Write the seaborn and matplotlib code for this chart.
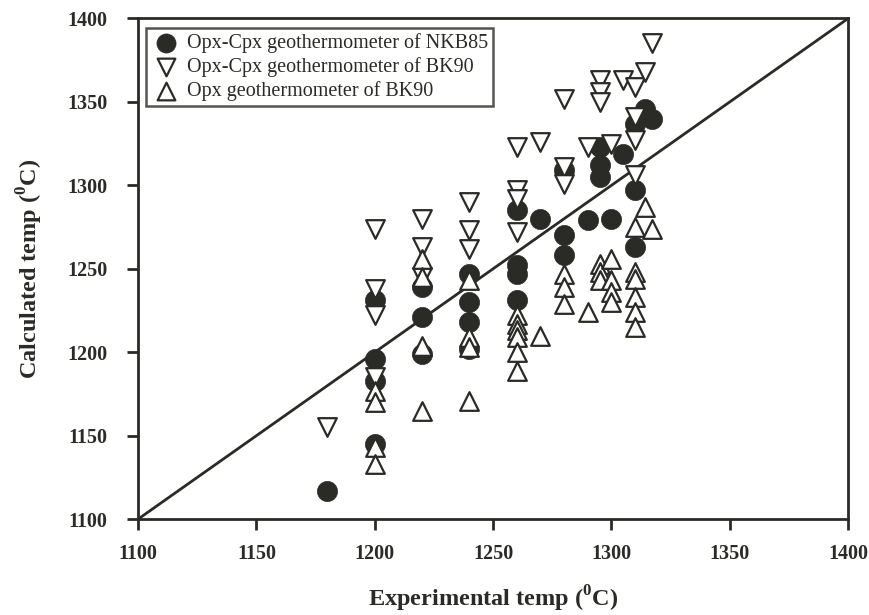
import matplotlib
matplotlib.use("Agg")
import matplotlib.pyplot as plt
import seaborn as sns
import pandas as pd

# Opx-Cpx geothermometer of NKB85 (filled circles)
nkb_exp = [1180, 1200, 1200, 1200, 1200, 1220, 1220, 1220, 1240, 1240, 1240, 1240,
           1260, 1260, 1260, 1260, 1270, 1280, 1280, 1280, 1290, 1295, 1295, 1295,
           1300, 1305, 1310, 1310, 1310, 1314, 1317]
nkb_calc = [1117, 1231, 1196, 1183, 1145, 1239, 1221, 1199, 1247, 1230, 1218, 1202,
            1285, 1252, 1247, 1231, 1280, 1309, 1270, 1258, 1279, 1323, 1312, 1305,
            1280, 1319, 1337, 1297, 1263, 1346, 1340]

# Opx-Cpx geothermometer of BK90 (down triangles)
bkc_exp = [1180, 1200, 1200, 1200, 1200, 1220, 1220, 1220, 1240, 1240, 1240,
           1260, 1260, 1260, 1260, 1270, 1280, 1280, 1280, 1290, 1295, 1295, 1295,
           1300, 1305, 1310, 1310, 1310, 1310, 1314, 1317]
bkc_calc = [1155, 1274, 1238, 1222, 1185, 1280, 1263, 1245, 1290, 1273, 1262,
            1323, 1297, 1292, 1272, 1326, 1352, 1311, 1301, 1323, 1363, 1356, 1350,
            1325, 1363, 1359, 1341, 1327, 1306, 1368, 1385]

# Opx geothermometer of BK90 (up triangles)
bko_exp = [1200, 1200, 1200, 1200, 1220, 1220, 1220, 1220, 1240, 1240, 1240, 1240,
           1260, 1260, 1260, 1260, 1260, 1260, 1270, 1280, 1280, 1280, 1290,
           1295, 1295, 1295, 1300, 1300, 1300, 1300,
           1310, 1310, 1310, 1310, 1310, 1310, 1314, 1317]
bko_calc = [1177, 1170, 1143, 1133, 1256, 1245, 1204, 1165, 1243, 1209, 1203, 1171,
            1222, 1217, 1213, 1209, 1200, 1189, 1210, 1247, 1239, 1229, 1224,
            1253, 1248, 1243, 1256, 1243, 1236, 1230,
            1248, 1244, 1233, 1224, 1215, 1275, 1287, 1274]

labels = ["Opx-Cpx geothermometer of NKB85",
          "Opx-Cpx geothermometer of BK90",
          "Opx geothermometer of BK90"]
ticks = [1100, 1150, 1200, 1250, 1300, 1350, 1400]

sns.set_style("ticks")
plt.rcParams["font.family"] = ["Liberation Serif", "DejaVu Serif"]
plt.rcParams["mathtext.fontset"] = "custom"
plt.rcParams["mathtext.rm"] = "Liberation Serif:bold"
plt.rcParams["mathtext.bf"] = "Liberation Serif:bold"

ink = "#2a2a26"
fig = plt.figure(figsize=(8.69, 6.15), dpi=100)
ax = fig.add_axes([0.159, 0.156, 0.817, 0.814])

ax.plot([ticks[0], ticks[-1]], [ticks[0], ticks[-1]], color=ink, lw=2.0, zorder=1)

df1 = pd.DataFrame({"x": nkb_exp, "y": nkb_calc})
df2 = pd.DataFrame({"x": bkc_exp, "y": bkc_calc})
df3 = pd.DataFrame({"x": bko_exp, "y": bko_calc})

sns.scatterplot(data=df1, x="x", y="y", marker="o", s=210, color=ink,
                edgecolor=ink, linewidth=0.5, ax=ax, label=labels[0], zorder=3)
sns.scatterplot(data=df2, x="x", y="y", marker="v", s=180, facecolor="white",
                edgecolor=ink, linewidth=1.6, ax=ax, label=labels[1], zorder=3)
sns.scatterplot(data=df3, x="x", y="y", marker="^", s=180, facecolor="white",
                edgecolor=ink, linewidth=1.6, ax=ax, label=labels[2], zorder=3)

ax.set_xlim(1100, 1400)
ax.set_ylim(1100, 1400)
ax.set_xticks(ticks)
ax.set_yticks(ticks)
ax.set_xticklabels([str(t) for t in ticks], fontsize=14.5, fontweight="bold", color=ink)
ax.set_yticklabels([str(t) for t in ticks], fontsize=14.5, fontweight="bold", color=ink)
ax.tick_params(axis="x", direction="out", length=8, width=2, color=ink, pad=10)
ax.tick_params(axis="y", direction="out", length=8, width=2, color=ink, pad=14)
for sp in ax.spines.values():
    sp.set_linewidth(2)
    sp.set_color(ink)

ax.set_xlabel(r"Experimental temp ($^{0}$C)", fontsize=17.5, fontweight="bold",
              color=ink, labelpad=14)
ax.set_ylabel(r"Calculated temp ($^{0}$C)", fontsize=17.5, fontweight="bold",
              color=ink, labelpad=16)

leg = ax.legend(loc="upper left", bbox_to_anchor=(0.002, 0.992), frameon=True,
                fancybox=False, fontsize=14.5, handletextpad=0.3, borderpad=0.25,
                labelspacing=0.2, handlelength=1.5, borderaxespad=0.3, markerscale=0.95)
leg.get_frame().set_edgecolor(ink)
leg.get_frame().set_linewidth(1.8)
for t in leg.get_texts():
    t.set_color(ink)

fig.savefig("out.png", dpi=100)
